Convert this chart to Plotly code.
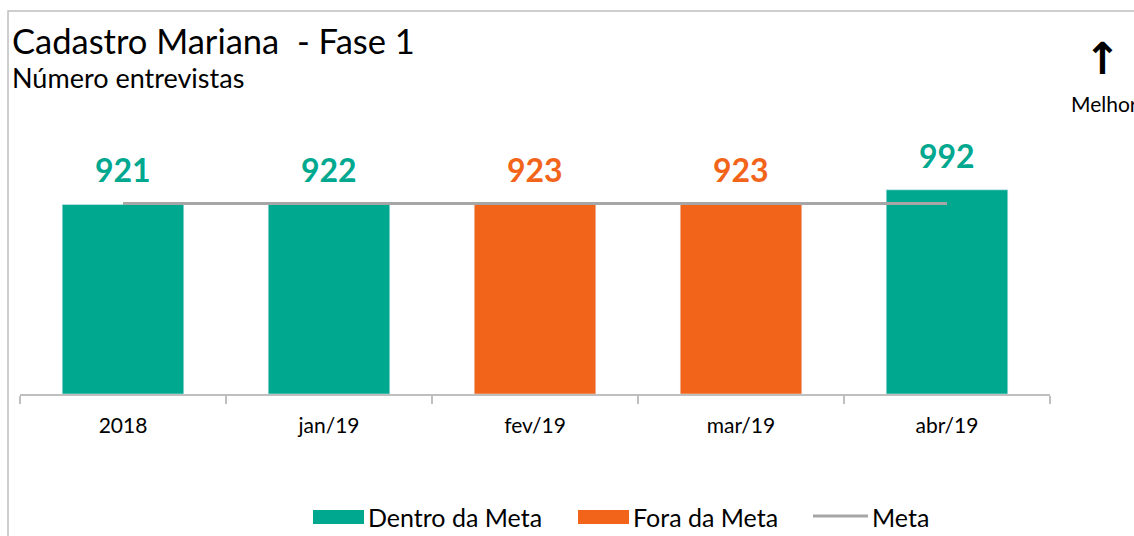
import plotly.graph_objects as go

categories = ["2018", "jan/19", "fev/19", "mar/19", "abr/19"]
values = [921, 922, 923, 923, 992]
status = ["Dentro", "Dentro", "Fora", "Fora", "Dentro"]
meta = [926, 926, 926, 926, 926]
legend_labels = ["Dentro da Meta", "Fora da Meta", "Meta"]

GREEN = "#00A88F"
ORANGE = "#F26419"
GRAY = "#A6A6A6"
FONT = "Lato"

W, H = 1134, 536
L, R, T, B = 20, 84, 147, 142
PW, PH = W - L - R, H - T - B


def px(x):
    return (x - L) / PW


def py(y):
    return (H - B - y) / PH


idx = list(range(len(categories)))
dentro = [v if s == "Dentro" else None for v, s in zip(values, status)]
fora = [v if s == "Fora" else None for v, s in zip(values, status)]

fig = go.Figure()
fig.add_trace(go.Bar(x=idx, y=dentro, name=legend_labels[0],
                     marker_color=GREEN, width=0.59, showlegend=False))
fig.add_trace(go.Bar(x=idx, y=fora, name=legend_labels[1],
                     marker_color=ORANGE, width=0.59, showlegend=False))
fig.add_trace(go.Scatter(x=idx, y=meta, name=legend_labels[2], mode="lines",
                         line=dict(color=GRAY, width=3), showlegend=False))

annotations = []
for i, v, s in zip(idx, values, status):
    annotations.append(dict(x=i, y=v, xref="x", yref="y", text=str(v),
                            showarrow=False, yanchor="bottom", yshift=13,
                            font=dict(family=FONT, size=32,
                                      color=GREEN if s == "Dentro" else ORANGE,
                                      weight="bold")))

annotations += [
    dict(x=px(10), y=py(40), xref="paper", yref="paper", xanchor="left",
         yanchor="middle", showarrow=False, text="Cadastro Mariana  - Fase 1",
         font=dict(family=FONT, size=34.5, color="#000000")),
    dict(x=px(10), y=py(78), xref="paper", yref="paper", xanchor="left",
         yanchor="middle", showarrow=False, text="Número entrevistas",
         font=dict(family=FONT, size=27, color="#000000")),
    dict(x=px(1102), y=py(59), xref="paper", yref="paper", xanchor="center",
         yanchor="middle", showarrow=False, text="<b>↑</b>",
         font=dict(family="DejaVu Sans", size=44, color="#000000")),
    dict(x=px(1069), y=py(103), xref="paper", yref="paper", xanchor="left",
         yanchor="middle", showarrow=False, text="Melhor",
         font=dict(family=FONT, size=21, color="#000000")),
]

# manual legend (swatches + labels)
leg_text_x = [366, 631, 870]
for lbl, tx in zip(legend_labels, leg_text_x):
    annotations.append(dict(x=px(tx), y=py(517), xref="paper", yref="paper",
                            xanchor="left", yanchor="middle", showarrow=False,
                            text=lbl, font=dict(family=FONT, size=25, color="#000000")))

shapes = [
    dict(type="rect", xref="paper", yref="paper",
         x0=px(8), x1=px(1160), y0=py(11), y1=py(560),
         line=dict(color="#BFBFBF", width=1.5), layer="below"),
    dict(type="rect", xref="paper", yref="paper",
         x0=px(313), x1=px(364), y0=py(510), y1=py(524),
         line=dict(width=0), fillcolor=GREEN),
    dict(type="rect", xref="paper", yref="paper",
         x0=px(578), x1=px(629), y0=py(510), y1=py(524),
         line=dict(width=0), fillcolor=ORANGE),
    dict(type="line", xref="paper", yref="paper",
         x0=px(813), x1=px(868), y0=py(516), y1=py(516),
         line=dict(color=GRAY, width=3)),
]

fig.update_layout(
    width=W, height=H,
    margin=dict(l=L, r=R, t=T, b=B, autoexpand=False),
    paper_bgcolor="white", plot_bgcolor="white",
    barmode="overlay",
    font=dict(family=FONT, color="#000000"),
    showlegend=False,
    annotations=annotations,
    shapes=shapes,
)
fig.update_xaxes(range=[-0.5, len(categories) - 0.5],
                 tickmode="array", tickvals=idx, ticktext=categories,
                 showline=True, linecolor="#BFBFBF", linewidth=1.5,
                 ticks="", showgrid=False, zeroline=False,
                 ticklabelstandoff=12,
                 tickfont=dict(family=FONT, size=21, color="#000000"),
                 fixedrange=True, automargin=False)
# category boundary ticks via minor ticks
fig.update_xaxes(minor=dict(tickmode="array",
                            tickvals=[i - 0.5 for i in idx] + [len(idx) - 0.5],
                            ticks="outside", ticklen=8, tickcolor="#BFBFBF",
                            tickwidth=1.5, showgrid=False))
fig.update_yaxes(visible=False, range=[0, 1200], showgrid=False, fixedrange=True)

fig.write_html("out.html", config={"displayModeBar": False},
               post_script="document.body.style.margin='0';")
